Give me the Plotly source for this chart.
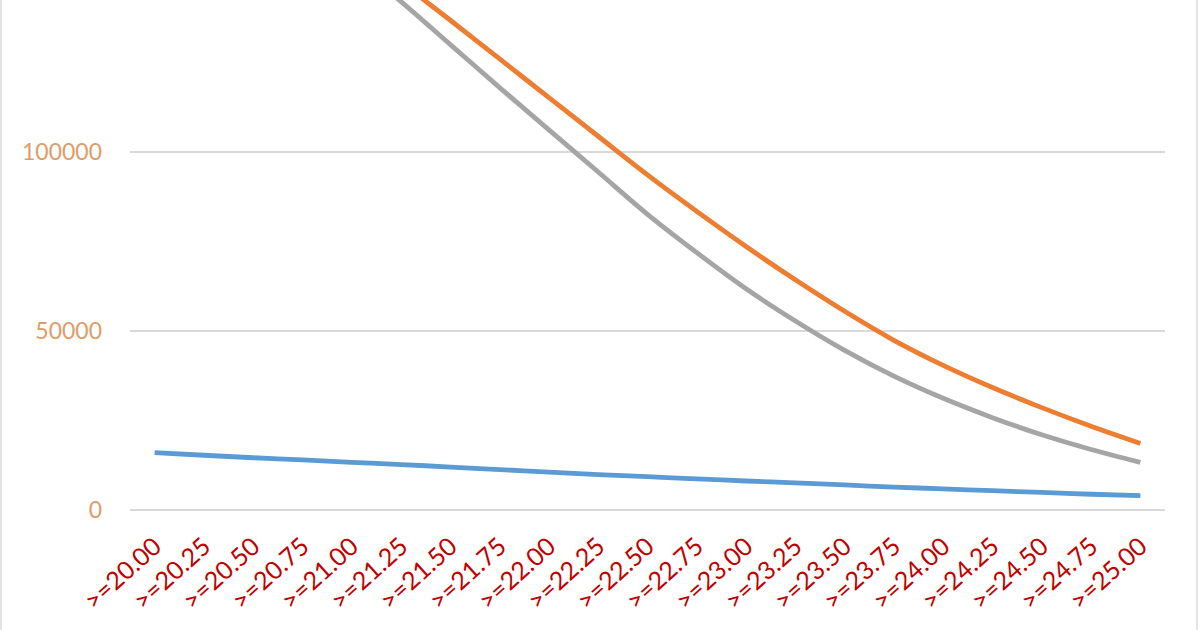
import plotly.graph_objects as go

categories = [">=20.00", ">=20.25", ">=20.50", ">=20.75", ">=21.00", ">=21.25", ">=21.50",
              ">=21.75", ">=22.00", ">=22.25", ">=22.50", ">=22.75", ">=23.00", ">=23.25",
              ">=23.50", ">=23.75", ">=24.00", ">=24.25", ">=24.50", ">=24.75", ">=25.00"]

blue_values = [16000, 15300, 14600, 14000, 13300, 12700, 12000, 11300, 10600, 9900, 9300,
               8700, 8100, 7600, 7000, 6400, 5900, 5400, 4900, 4400, 4000]
orange_values = [212000, 198000, 184500, 171500, 159200, 147500, 136800, 126000, 115200, 104400, 93600,
                 83400, 73600, 64300, 55500, 47400, 40400, 34200, 28600, 23400, 18600]
gray_values = [205000, 190500, 177500, 165000, 153200, 142000, 130000, 118000, 106200, 94400, 82600,
               71900, 61800, 52800, 44600, 37400, 31200, 25800, 21000, 16900, 13300]

y_ticks = [0, 50000, 100000]
y_tick_labels = ["0", "50000", "100000"]

fig = go.Figure()
for name, vals, color in [("Series 1", blue_values, "#5B9BD5"),
                          ("Series 3", gray_values, "#A5A5A5"),
                          ("Series 2", orange_values, "#ED7D31")]:
    fig.add_trace(go.Scatter(x=categories, y=vals, mode="lines", name=name,
                             line=dict(color=color, width=4.8, shape="spline", smoothing=0.9)))

W, H = 1200, 630
L, R, T, B = 130, 35, 0, 120
pw = W - L - R

fig.update_layout(
    width=W, height=H,
    margin=dict(l=L, r=R, t=T, b=B),
    paper_bgcolor="white", plot_bgcolor="white",
    showlegend=False,
    font=dict(family="Lato, Open Sans, sans-serif"),
    xaxis=dict(type="category", showgrid=False, showline=False, ticks="",
               tickangle=-42, tickfont=dict(color="#C00000", size=25),
               ticklabelstandoff=16, range=[-0.5, len(categories) - 0.5]),
    yaxis=dict(range=[0, 142460], tickvals=y_ticks, ticktext=y_tick_labels,
               showgrid=True, gridcolor="#D9D9D9", gridwidth=1.5,
               zeroline=True, zerolinecolor="#D9D9D9", zerolinewidth=1.5,
               showline=False, ticks="", ticklabelstandoff=27,
               tickfont=dict(color="#DE9C6A", size=23)),
    shapes=[
        dict(type="line", xref="paper", yref="paper", x0=(1 - L) / pw, x1=(1 - L) / pw,
             y0=-B / (H - T - B), y1=1, line=dict(color="#D9D9D9", width=1.5)),
        dict(type="line", xref="paper", yref="paper", x0=(1197 - L) / pw, x1=(1197 - L) / pw,
             y0=-B / (H - T - B), y1=1, line=dict(color="#D9D9D9", width=1.5)),
    ],
)

fig.write_html("out.html", config={"displayModeBar": False},
               post_script="document.body.style.margin='0';document.body.style.overflow='hidden';")
